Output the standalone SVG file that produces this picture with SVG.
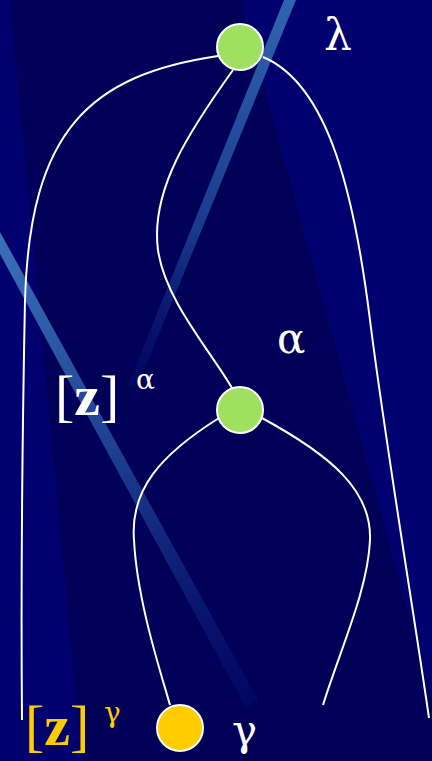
<svg xmlns="http://www.w3.org/2000/svg" width="432" height="761" viewBox="0 0 432 761">
<defs>
<linearGradient id="s1" x1="290" y1="0" x2="132" y2="385" gradientUnits="userSpaceOnUse">
<stop offset="0" stop-color="#2f64b0"/><stop offset="0.6" stop-color="#1a3a8c"/><stop offset="1" stop-color="#0a1a78" stop-opacity="0.2"/>
</linearGradient>
<linearGradient id="s2" x1="0" y1="240" x2="252" y2="705" gradientUnits="userSpaceOnUse">
<stop offset="0" stop-color="#3a70b8"/><stop offset="0.5" stop-color="#1a3a8c"/><stop offset="1" stop-color="#061070" stop-opacity="0.4"/>
</linearGradient>
<style>
.edge{fill:none;stroke:#ffffff;stroke-width:2}
.node{stroke:#ffffff;stroke-width:2}
.t{font-family:"Liberation Serif","DejaVu Serif","Times New Roman",serif;fill:#ffffff}
.g{font-family:"DejaVu Serif","Liberation Serif",serif;fill:#ffffff}
.y{fill:#ffcc00}
.z{font-weight:bold}
</style>
</defs>
<rect width="432" height="761" fill="#000058"/>
<polygon points="240,0 432,0 432,700" fill="#00006e"/>
<polygon points="0,0 10,0 82,761 0,761" fill="#00006e"/>
<polygon points="284,0 296,0 138,385 128,385" fill="url(#s1)"/>
<polygon points="0,232 0,254 246,708 258,700" fill="url(#s2)"/>
<g id="connectors">
<path class="edge" d="M218,56 C90,75 30,130 25,300 C22,450 21,600 22,720"/>
<path class="edge" d="M233,70 C190,130 150,190 158,250 C165,300 210,350 232,388"/>
<path class="edge" d="M263,57 C330,85 355,200 370,320 C385,440 415,620 429,718"/>
<path class="edge" d="M219,418 C160,455 130,490 134,540 C137,600 160,670 170,705"/>
<path class="edge" d="M262,418 C330,455 372,490 370,540 C368,590 340,650 323,705"/>
</g>
<g id="node-lambda">
<circle class="node" cx="240" cy="47" r="23" fill="#a0e060"/>
<text class="g" x="324" y="50" font-size="44">λ</text>
</g>
<g id="node-alpha">
<circle class="node" cx="240" cy="410" r="23" fill="#a0e060"/>
<text class="g" x="277" y="353" font-size="42">α</text>
</g>
<g id="node-gamma">
<circle class="node" cx="180" cy="728" r="23" fill="#ffcc00"/>
<text class="g" x="232" y="745" font-size="42">γ</text>
</g>
<g id="label-z-alpha">
<text class="t" x="55" y="415" font-size="58">[<tspan class="z">z</tspan>]</text>
<text class="g" x="136" y="389" font-size="28">α</text>
</g>
<g id="label-z-gamma">
<text class="t y" x="25" y="745" font-size="58">[<tspan class="z">z</tspan>]</text>
<text class="g y" x="104" y="722" font-size="28">γ</text>
</g>
</svg>
